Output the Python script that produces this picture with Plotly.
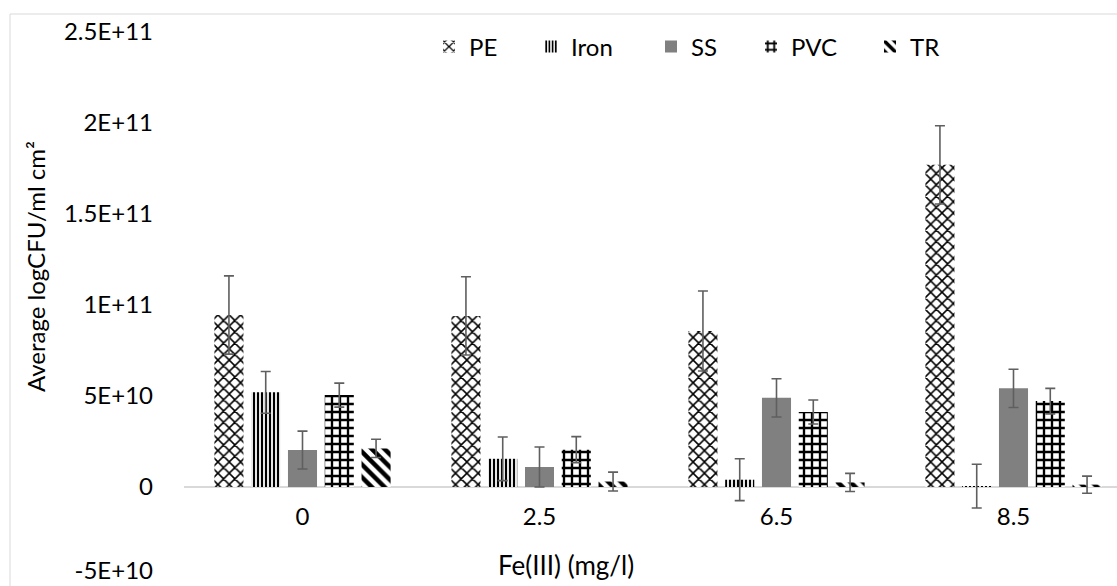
import plotly.graph_objects as go

categories = ["0", "2.5", "6.5", "8.5"]
series_names = ["PE", "Iron", "SS", "PVC", "TR"]
pe = [9.45e10, 9.4e10, 8.57e10, 17.7e10]
pe_err = [2.15e10, 2.15e10, 2.2e10, 2.15e10]
iron = [5.2e10, 1.55e10, 0.4e10, 0.05e10]
iron_err = [1.15e10, 1.2e10, 1.15e10, 1.2e10]
ss = [2.03e10, 1.1e10, 4.9e10, 5.42e10]
ss_err = [1.04e10, 1.1e10, 1.05e10, 1.05e10]
pvc = [5.05e10, 2.05e10, 4.12e10, 4.72e10]
pvc_err = [0.66e10, 0.72e10, 0.66e10, 0.7e10]
tr = [2.12e10, 0.3e10, 0.25e10, 0.13e10]
tr_err = [0.5e10, 0.52e10, 0.5e10, 0.47e10]

y_tickvals = [0, 5e10, 1e11, 1.5e11, 2e11, 2.5e11]
y_ticktext = ["0", "5E+10", "1E+11", "1.5E+11", "2E+11", "2.5E+11"]
y_low_tickvals = [-5e10]
y_low_ticktext = ["-5E+10"]

FONT = "Lato"
FS = 24
W, H = 1117, 586
L, R, T, B = 184, 0, 32, 8
pw, ph = W - L - R, H - T - B

def px_x(p):
    return (p - L) / pw

def px_y(p):
    return (H - B - p) / ph

styles = [
    dict(shape="x", fgcolor="black", bgcolor="white", size=8, solidity=0.35),
    dict(shape="|", fgcolor="black", bgcolor="white", size=4, solidity=0.55),
    None,
    dict(shape="+", fgcolor="black", bgcolor="white", size=8, solidity=0.5),
    dict(shape="\\", fgcolor="black", bgcolor="white", size=9, solidity=0.5),
]
values = [pe, iron, ss, pvc, tr]
errors = [pe_err, iron_err, ss_err, pvc_err, tr_err]
legend_text_x = [470, 572, 692, 792, 911]
legend_ids = ["legend", "legend2", "legend3", "legend4", "legend5"]

fig = go.Figure()
for name, vals, errs, st, lid in zip(series_names, values, errors, styles, legend_ids):
    if st is None:
        marker = dict(color="#808080", line=dict(width=0))
    else:
        marker = dict(color="white", pattern=st, line=dict(width=0))
    fig.add_trace(go.Bar(
        x=categories, y=vals, name=name, marker=marker, legend=lid,
        error_y=dict(type="data", array=errs, visible=True,
                     color="#5f5f5f", thickness=1.6, width=5),
    ))

# invisible helper trace so the overlaid axis carrying the lowest tick label is drawn
fig.add_trace(go.Scatter(x=[categories[0]], y=[None], yaxis="y2", mode="markers",
                         marker=dict(opacity=0), showlegend=False, hoverinfo="skip"))

legend_layouts = {}
for lid, tx in zip(legend_ids, legend_text_x):
    legend_layouts[lid] = dict(
        orientation="h", x=px_x(tx - 41), xanchor="left",
        y=px_y(47), yanchor="middle",
        font=dict(family=FONT, size=FS, color="black"),
        bgcolor="rgba(0,0,0,0)")

y_range = [-5e10, 2.5e11]
cat_w = 237.0
fig.update_layout(
    template="none",
    width=W, height=H,
    margin=dict(l=L, r=R, t=T, b=B, pad=0, autoexpand=False),
    paper_bgcolor="white", plot_bgcolor="white",
    barmode="group", bargap=0.224, bargroupgap=0.21,
    font=dict(family=FONT, size=FS, color="black"),
    showlegend=True,
    xaxis=dict(type="category", range=[-0.5, -0.5 + pw / cat_w],
               showgrid=False, showline=False, ticks="", automargin=False,
               anchor="free", position=px_y(486), ticklabelstandoff=14,
               ticklabeloverflow="allow",
               tickfont=dict(family=FONT, size=FS, color="black")),
    yaxis=dict(range=y_range, tickvals=y_tickvals, ticktext=y_ticktext,
               showgrid=False, showline=False, ticks="", automargin=False,
               zeroline=True, zerolinecolor="#d9d9d9", zerolinewidth=1.5,
               ticklabelstandoff=30, ticklabeloverflow="allow",
               tickfont=dict(family=FONT, size=FS, color="black")),
    yaxis2=dict(range=y_range, overlaying="y", anchor="x", side="left",
                tickvals=y_low_tickvals, ticktext=y_low_ticktext,
                showgrid=False, showline=False, ticks="", automargin=False,
                zeroline=False, ticklabelstandoff=30, ticklabeloverflow="allow",
                ticklabelshift=-7,
                tickfont=dict(family=FONT, size=FS, color="black")),
    annotations=[
        dict(text="Average logCFU/ml cm²", textangle=-90, x=px_x(35), y=px_y(267),
             xanchor="center", yanchor="middle",
             xref="paper", yref="paper", showarrow=False,
             font=dict(family=FONT, size=FS, color="black")),
        dict(text="Fe(III) (mg/l)", x=px_x(566), y=px_y(565),
             xanchor="center", yanchor="middle",
             xref="paper", yref="paper", showarrow=False,
             font=dict(family=FONT, size=26, color="black")),
    ],
    shapes=[
        dict(type="rect", xref="paper", yref="paper",
             x0=px_x(10), x1=px_x(1130), y0=px_y(600), y1=px_y(14),
             line=dict(color="#d9d9d9", width=1), fillcolor="rgba(0,0,0,0)", layer="below"),
    ],
    **legend_layouts,
)

fig.write_html("out.html", config={"displayModeBar": False},
               post_script="document.body.style.margin='0px';")
